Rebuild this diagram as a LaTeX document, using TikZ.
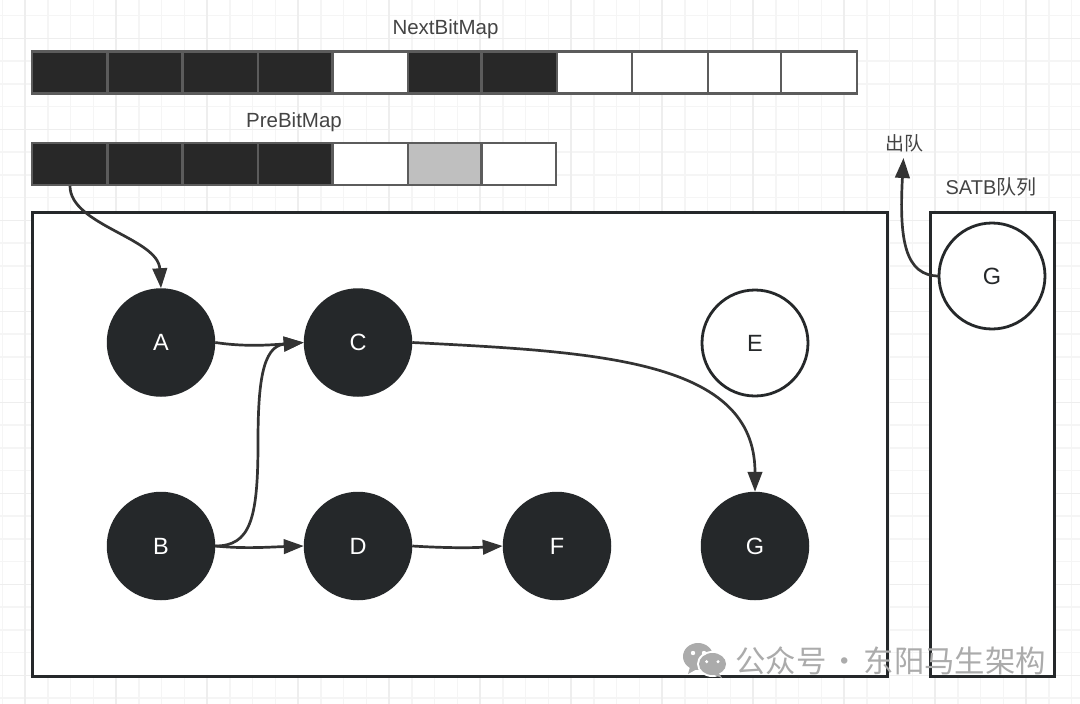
\documentclass[tikz,border=0pt]{standalone}
\usepackage{fontspec}
\setmainfont{Liberation Sans}
\newfontfamily\cjk{Noto Sans CJK SC}
\usetikzlibrary{arrows.meta}
\definecolor{ink}{HTML}{25282A}
\definecolor{cellline}{HTML}{5C5C5C}
\definecolor{cellfill}{HTML}{282828}
\definecolor{arrowc}{HTML}{333333}
\definecolor{gridminor}{HTML}{F5F5F5}
\definecolor{gridmajor}{HTML}{EEEEEE}
\definecolor{labelc}{HTML}{444444}
\definecolor{wm}{HTML}{ABABAB}
\tikzset{
  x=1pt,y=-1pt,
  cell/.style={draw=cellline,line width=2.8pt,minimum height=42pt,inner sep=0pt,outer sep=0pt,anchor=north west},
  cellon/.style={cell,fill=cellfill},
  celloff/.style={cell,fill=white},
  cellhalf/.style={cell,fill=black!25},
  frameb/.style={draw=ink,line width=3pt,fill=white},
  dark/.style={circle,fill=ink,text=white,minimum size=108.5pt,inner sep=0pt,outer sep=0pt,font=\fontsize{23.5}{25}\selectfont},
  light/.style={circle,draw=ink,line width=2.8pt,fill=white,text=ink,minimum size=106pt,inner sep=0pt,outer sep=0pt,font=\fontsize{23.5}{25}\selectfont},
  conn/.style={draw=arrowc,line width=2.7pt,-{Triangle[length=20pt,width=14.5pt]}},
  caplabel/.style={text=labelc,font=\fontsize{20.5}{22}\selectfont},
}
\begin{document}
\begin{tikzpicture}
\useasboundingbox (0,0) rectangle (1080,704);
\fill[white] (0,0) rectangle (1080,704);
% background grid
\foreach \i in {0,...,47} \draw[gridminor,line width=1.5pt] ({2.25+\i*22.75},0) -- ({2.25+\i*22.75},704);
\foreach \i in {0,...,30} \draw[gridminor,line width=1.5pt] (0,{15.5+\i*22.75}) -- (1080,{15.5+\i*22.75});
\foreach \i in {0,...,11} \draw[gridmajor,line width=1.6pt] ({25+\i*91},0) -- ({25+\i*91},704);
\foreach \i in {0,...,7} \draw[gridmajor,line width=1.6pt] (0,{38.3+\i*91}) -- (1080,{38.3+\i*91});
% bit maps
\node[caplabel] (nextlab) at (445.5,29) {NextBitMap};
\node[caplabel] (prelab) at (294,122) {PreBitMap};
\node[cellon,minimum width=75.5pt] (n1) at (32,51.5) {};
\node[cellon,minimum width=75pt] (n2) at (107.5,51.5) {};
\node[cellon,minimum width=75.5pt] (n3) at (182.5,51.5) {};
\node[cellon,minimum width=74.5pt] (n4) at (258,51.5) {};
\node[celloff,minimum width=75.5pt] (n5) at (332.5,51.5) {};
\node[cellon,minimum width=73.5pt] (n6) at (408,51.5) {};
\node[cellon,minimum width=75.5pt] (n7) at (481.5,51.5) {};
\node[celloff,minimum width=75pt] (n8) at (557,51.5) {};
\node[celloff,minimum width=76pt] (n9) at (632,51.5) {};
\node[celloff,minimum width=73pt] (n10) at (708,51.5) {};
\node[celloff,minimum width=76pt] (n11) at (781,51.5) {};
\node[cellon,minimum width=75.5pt] (p1) at (32,143) {};
\node[cellon,minimum width=75pt] (p2) at (107.5,143) {};
\node[cellon,minimum width=75.5pt] (p3) at (182.5,143) {};
\node[cellon,minimum width=74.5pt] (p4) at (258,143) {};
\node[celloff,minimum width=75.5pt] (p5) at (332.5,143) {};
\node[cellhalf,minimum width=73.5pt] (p6) at (408,143) {};
\node[celloff,minimum width=74.5pt] (p7) at (481.5,143) {};
% frames
\draw[frameb] (32,212.5) rectangle (887.5,676);
\draw[frameb] (930,212.5) rectangle (1054.5,676);
% nodes
\node[dark] (A) at (161,342.5) {A};
\node[dark] (C) at (358,342.5) {C};
\node[dark] (B) at (161,546) {B};
\node[dark] (D) at (358,546) {D};
\node[dark] (F) at (557,546) {F};
\node[dark] (G) at (755,546) {G};
\node[light] (E) at (755,343) {E};
\node[light] (Q) at (992,276) {G};
\node[text=labelc,font=\fontsize{20}{22}\selectfont] (satb) at (991,186.5) {SATB{\cjk 队列}};
\node[text=labelc,font=\fontsize{19}{20}\selectfont\cjk] (out) at (904,143.5) {出队};
\coordinate (outtip) at (903.5,158);
\coordinate (pstart) at (70,186);
% connectors
\draw[conn] (pstart) .. controls (70,225) and (158,238) .. (A.north);
\draw[conn] (A.east) .. controls (245,347) and (270,345) .. (C.west);
\draw[conn] (B.east) .. controls (250,546) and (258,520) .. (258,443) .. controls (258,385) and (262,346) .. (C.west);
\draw[conn] (B.east) .. controls (245,549) and (270,547) .. (D.west);
\draw[conn] (D.east) .. controls (445,548) and (470,548) .. (F.west);
\draw[conn] (C.east) .. controls (600,352) and (755,360) .. (G.north);
\draw[conn] (Q.west) .. controls (905,276) and (899,240) .. (outtip);
% watermark
\fill[wm] (698,656.5) ellipse (15 and 13.5);
\fill[wm] (690,667) -- (688,674) -- (697,669) -- cycle;
\fill[white] (712.5,664) ellipse (15.5 and 13);
\fill[wm] (712.5,664) ellipse (13.5 and 11);
\fill[wm] (718,672) -- (722,678) -- (712,674) -- cycle;
\fill[white] (693,653) circle (2.2) (704,653) circle (2.2) (706.7,661.7) circle (1.7) (718,661.7) circle (1.7);
\node[text=wm,font=\fontsize{30.4}{32}\selectfont\cjk,anchor=west,inner sep=0pt] (mark) at (735,660.5) {公众号\hspace{3.5pt}·\hspace{3.5pt}东阳马生架构};
\end{tikzpicture}
\end{document}
